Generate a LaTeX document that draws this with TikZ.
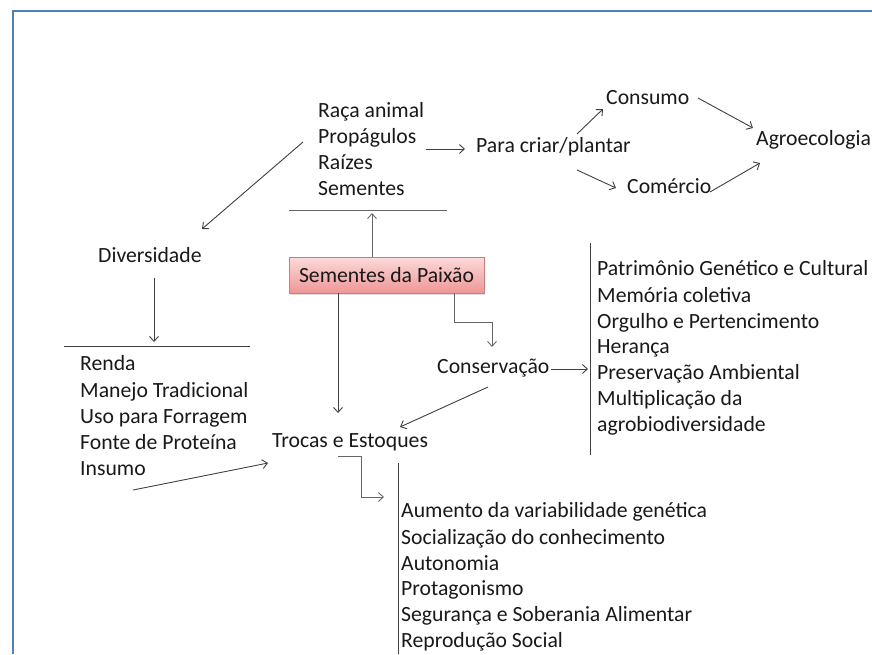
\documentclass[tikz,border=0pt]{standalone}
\usepackage{fontspec}
\setmainfont{Carlito}
\usetikzlibrary{arrows.meta,shadows}
\definecolor{framebl}{RGB}{79,129,189}
\definecolor{boxtop}{RGB}{252,218,218}
\definecolor{boxbot}{RGB}{238,150,150}
\definecolor{boxedge}{RGB}{215,120,120}
\begin{document}
\begin{tikzpicture}[x=1pt,y=-1pt,
  txt/.style={inner sep=0pt, anchor=base west, font=\fontsize{21.7}{26}\selectfont, text=black!90},
  arr/.style={draw=black!75, line width=0.9pt, -{Straight Barb[length=5pt,width=9pt]}},
  ln/.style={draw=black!75, line width=0.9pt},
  keybox/.style={draw=boxedge, line width=0.8pt, top color=boxtop, bottom color=boxbot,
     minimum width=195pt, minimum height=36pt, inner sep=0pt,
     font=\fontsize{21.7}{26}\selectfont, text=black!90,
     drop shadow={opacity=0.25, shadow xshift=1pt, shadow yshift=-2pt}},
]
\useasboundingbox (0,0) rectangle (872,654);
\fill[white] (0,0) rectangle (872,654);
\draw[framebl, line width=2pt] (13,654) -- (13,11) -- (872,11);

% top-centre list
\node[txt] (r1) at (318,117) {Raça animal};
\node[txt] (r2) at (318,143) {Propágulos};
\node[txt] (r3) at (318,169) {Raízes};
\node[txt] (r4) at (318,195) {Sementes};

\node[txt] (para) at (476,152) {Para criar/plantar};
\node[txt] (cons) at (606,104) {Consumo};
\node[txt] (come) at (627,193) {Comércio};
\node[txt] (agro) at (756,145) {Agroecologia};

\node[txt] (div) at (98,262) {Diversidade};

\node[keybox] (box) at (386.5,275) {Sementes da Paixão};

% left list
\node[txt] (l1) at (80,370) {Renda};
\node[txt] (l2) at (80,397) {Manejo Tradicional};
\node[txt] (l3) at (80,423) {Uso para Forragem};
\node[txt] (l4) at (80,449) {Fonte de Proteína};
\node[txt] (l5) at (80,475) {Insumo};

\node[txt] (troc) at (272,447) {Trocas e Estoques};
\node[txt] (conv) at (437,373) {Conservação};

% right list
\node[txt] (p1) at (597,275) {Patrimônio Genético e Cultural};
\node[txt] (p2) at (597,302) {Memória coletiva};
\node[txt] (p3) at (597,328) {Orgulho e Pertencimento};
\node[txt] (p4) at (597,353) {Herança};
\node[txt] (p5) at (597,379) {Preservação Ambiental};
\node[txt] (p6) at (597,405) {Multiplicação da};
\node[txt] (p7) at (597,431) {agrobiodiversidade};

% bottom list
\node[txt] (b1) at (401,517) {Aumento da variabilidade genética};
\node[txt] (b2) at (401,544) {Socialização do conhecimento};
\node[txt] (b3) at (401,570) {Autonomia};
\node[txt] (b4) at (401,595) {Protagonismo};
\node[txt] (b5) at (401,621) {Segurança e Soberania Alimentar};
\node[txt] (b6) at (401,647) {Reprodução Social};

% bars
\coordinate (hA1) at (289,210); \coordinate (hA2) at (447,210);
\coordinate (hB1) at (64,346);  \coordinate (hB2) at (250,346);
\coordinate (vR1) at (590,243); \coordinate (vR2) at (590,455);
\coordinate (vB1) at (398,463); \coordinate (vB2) at (398,654);
\draw[ln, draw=black!60] (hA1) -- (hA2);
\draw[ln] (hB1) -- (hB2);
\draw[ln] (vR1) -- (vR2);
\draw[ln] (vB1) -- (vB2);

% connector end points
\coordinate (a1s) at (303,142); \coordinate (a1e) at (202,229);
\coordinate (a2s) at (426,149); \coordinate (a2e) at (465,149);
\coordinate (a3s) at (577,134); \coordinate (a3e) at (603,109);
\coordinate (a4s) at (577,170); \coordinate (a4e) at (616,188);
\coordinate (a5s) at (698,98);  \coordinate (a5e) at (753,128);
\coordinate (a6s) at (710,192); \coordinate (a6e) at (760,163);
\coordinate (a7e) at (372,213);
\coordinate (a8s) at (154,278); \coordinate (a8e) at (154,342);
\coordinate (a9s) at (338,293); \coordinate (a9e) at (338,413);
\coordinate (a10s) at (454,293); \coordinate (a10e) at (492,347);
\coordinate (a11s) at (551,369); \coordinate (a11e) at (588,369);
\coordinate (a12s) at (488,387); \coordinate (a12e) at (400,427);
\coordinate (a13s) at (133,490); \coordinate (a13e) at (268,463);
\coordinate (a14s) at (338,456); \coordinate (a14e) at (384,497);

\draw[arr] (a1s) -- (a1e);
\draw[arr] (a2s) -- (a2e);
\draw[arr] (a3s) -- (a3e);
\draw[arr] (a4s) -- (a4e);
\draw[arr] (a5s) -- (a5e);
\draw[arr] (a6s) -- (a6e);
\draw[arr, draw=black!60] (box.north -| a7e) -- (a7e);
\draw[arr] (a8s) -- (a8e);
\draw[arr] (a9s) -- (a9e);
\draw[arr, draw=black!60] (a10s) -- (454,322) -| (a10e);
\draw[arr] (a11s) -- (a11e);
\draw[arr] (a12s) -- (a12e);
\draw[arr] (a13s) -- (a13e);
\draw[arr, draw=black!60] (a14s) -- (361,456) |- (a14e);
\end{tikzpicture}
\end{document}
